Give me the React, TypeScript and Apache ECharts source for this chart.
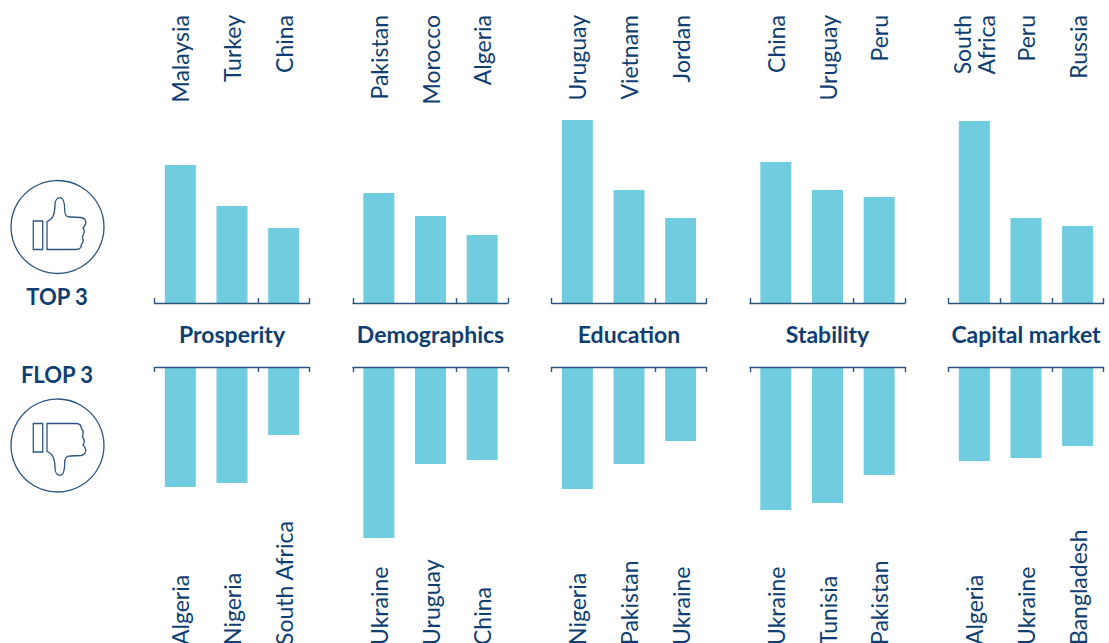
import React, { useEffect, useRef } from "react";
import * as echarts from "echarts";

const panels = ["Prosperity", "Demographics", "Education", "Stability", "Capital market"];
const topCountries = [
  ["Malaysia", "Turkey", "China"],
  ["Pakistan", "Morocco", "Algeria"],
  ["Uruguay", "Vietnam", "Jordan"],
  ["China", "Uruguay", "Peru"],
  ["South\nAfrica", "Peru", "Russia"],
];
const topValues = [
  [138, 97, 75],
  [110, 87, 68],
  [183, 113, 85],
  [141, 113, 106],
  [182, 85, 77],
];
const flopCountries = [
  ["Algeria", "Nigeria", "South Africa"],
  ["Ukraine", "Uruguay", "China"],
  ["Nigeria", "Pakistan", "Ukraine"],
  ["Ukraine", "Tunisia", "Pakistan"],
  ["Algeria", "Ukraine", "Bangladesh"],
];
const flopValues = [
  [120, 116, 68],
  [171, 97, 93],
  [122, 97, 74],
  [143, 136, 108],
  [94, 91, 79],
];

const NAVY = "#0f3f72";
const LINE = "#2b5581";
const BAR = "#70cde0";
const FONT = "Lato, 'Open Sans', sans-serif";

const THUMB =
  "M47 79.5 L47 51.5 C52 50 55 45 55 35 C55 30 57.5 27.7 60 27.7 C63.5 27.7 64.7 32 64.7 40 C64.7 45 66 47 70 47 L81 47.5 C85 48 86.3 51 85.5 54 C85 56.5 83.5 57.5 83 58 C84.5 60 84.5 63 83 65 C82.5 66 82.5 68 83 69 C83.5 71.5 82.5 73.5 81.5 74 C81.5 77.5 79.5 79.5 76 79.5 Z M33.3 51 L42.7 51 L42.7 79.5 L33.3 79.5 Z";

echarts.graphic.registerShape("thumb", echarts.graphic.extendPath(THUMB, {}) as any);

export default function App() {
  const ref = useRef<HTMLDivElement>(null);
  useEffect(() => {
    document.body.style.margin = "0";
    const chart = echarts.init(ref.current!, null, { renderer: "svg" });
    const grids: any[] = [];
    const xAxes: any[] = [];
    const yAxes: any[] = [];
    const series: any[] = [];
    const titles: any[] = [];
    const baseX = (k: number) => ({
      type: "category",
      z: 5,
      axisLabel: { show: false },
      axisLine: { show: true, onZero: false, lineStyle: { color: LINE, width: 1.4 } },
      axisTick: { show: true, inside: true, length: 5, alignWithLabel: false, lineStyle: { color: LINE, width: 1.4 } },
      gridIndex: k,
    });
    const labelAxis = (k: number, cats: string[], pos: string, align: string, rotate: number) => ({
      type: "category",
      gridIndex: k,
      position: pos,
      data: cats,
      axisLine: { show: false, onZero: false },
      axisTick: { show: false },
      axisLabel: {
        show: true,
        interval: 0,
        rotate,
        margin: 0,
        align,
        verticalAlign: "middle",
        padding: [0, 0, 8, 0],
        color: NAVY,
        fontFamily: FONT,
        fontSize: 23,
        lineHeight: 24,
      },
    });
    panels.forEach((name, i) => {
      const left = 154.5 + i * 198.5;
      const kT = i * 2;
      const kB = i * 2 + 1;
      grids.push({ left, width: 155, top: 15, height: 288, outerBoundsMode: "none" });
      grids.push({ left, width: 155, top: 367, height: 278, outerBoundsMode: "none" });
      xAxes.push({ ...baseX(kT), position: "bottom", data: topCountries[i] });
      xAxes.push(labelAxis(kT, topCountries[i], "top", "right", -90));
      xAxes.push({ ...baseX(kB), position: "top", data: flopCountries[i] });
      xAxes.push(labelAxis(kB, flopCountries[i], "bottom", "left", 90));
      yAxes.push({ type: "value", gridIndex: kT, min: 0, max: 288, show: false });
      yAxes.push({ type: "value", gridIndex: kB, min: 0, max: 278, inverse: true, show: false });
      series.push({
        type: "bar",
        xAxisIndex: i * 4,
        yAxisIndex: kT,
        data: topValues[i],
        barWidth: 31,
        itemStyle: { color: BAR },
        silent: true,
      });
      series.push({
        type: "bar",
        xAxisIndex: i * 4 + 2,
        yAxisIndex: kB,
        data: flopValues[i],
        barWidth: 31,
        itemStyle: { color: BAR },
        silent: true,
      });
      titles.push({
        type: "text",
        x: left + 77.5,
        y: 333.5,
        style: {
          text: name,
          fill: NAVY,
          font: `700 23px ${FONT}`,
          align: "center",
          verticalAlign: "middle",
        },
      });
    });
    const ICON = { fill: "none", stroke: LINE, lineWidth: 1.3 };
    const graphic = [
      ...titles,
      { type: "circle", shape: { cx: 57.5, cy: 227, r: 46.5 }, style: ICON },
      { type: "circle", shape: { cx: 57.5, cy: 445.5, r: 46.5 }, style: ICON },
      { type: "thumb", x: 0, y: 170, style: ICON },
      { type: "thumb", x: 0, y: 503, scaleY: -1, style: ICON },
      {
        type: "text",
        x: 57,
        y: 296.5,
        style: { text: "TOP 3", fill: NAVY, font: `700 22px ${FONT}`, align: "center", verticalAlign: "middle" },
      },
      {
        type: "text",
        x: 57,
        y: 374.5,
        style: { text: "FLOP 3", fill: NAVY, font: `700 22px ${FONT}`, align: "center", verticalAlign: "middle" },
      },
    ];
    chart.setOption({ animation: false, grid: grids, xAxis: xAxes, yAxis: yAxes, series, graphic });
    return () => chart.dispose();
  }, []);
  return <div ref={ref} style={{ position: "absolute", left: 0, top: 0, width: 1109, height: 643 }} />;
}
